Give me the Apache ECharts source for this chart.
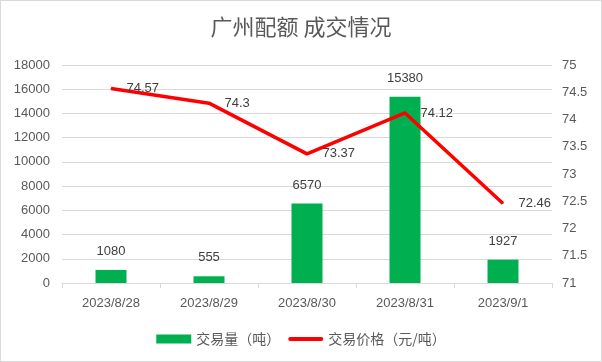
<!DOCTYPE html>
<html><head><meta charset="utf-8">
<script src="https://cdn.jsdelivr.net/npm/echarts@6/dist/echarts.min.js"></script>
<style>
html,body{margin:0;padding:0;background:#fff;}
#c{width:600px;height:360px;border:1px solid #d9d9d9;}
</style></head>
<body><div id="c"></div>
<script>
const categories = ['2023/8/28','2023/8/29','2023/8/30','2023/8/31','2023/9/1'];
const volume = [1080, 555, 6570, 15380, 1927];
const price = [74.57, 74.3, 73.37, 74.12, 72.46];
const titleText = '广州配额 成交情况';
const volumeName = '交易量（吨）';
const priceName = '交易价格（元/吨）';

const chart = echarts.init(document.getElementById('c'), null, {renderer:'canvas'});
const txt = '#595959';
const font = '"Liberation Sans", "Noto Sans CJK SC", sans-serif';
chart.setOption({
  animation:false,
  title:{text:titleText,left:'center',top:10,textStyle:{fontSize:22,fontWeight:'normal',color:txt,fontFamily:'"Noto Sans CJK SC", sans-serif'}},
  legend:{bottom:10,left:'center',itemGap:8,itemWidth:35,itemHeight:9,symbolKeepAspect:true,
    textStyle:{fontSize:14,color:txt,fontFamily:'"Noto Sans CJK SC", sans-serif'},
    data:[{name:volumeName,icon:'rect'},
          {name:priceName,icon:'path://M2,0H33A2,2 0 0 1 33,4H2A2,2 0 0 1 2,0Z',itemStyle:{color:'#FF0000'}}]},
  grid:{left:61,right:49,top:64,bottom:78},
  xAxis:{type:'category',data:categories,
    axisLine:{lineStyle:{color:'#d9d9d9'}},
    axisTick:{show:true,length:5,lineStyle:{color:'#d9d9d9'}},
    axisLabel:{color:txt,fontSize:13,margin:14,fontFamily:font}},
  yAxis:[
    {type:'value',min:0,max:18000,interval:2000,
     axisLine:{show:false},axisTick:{show:false},
     splitLine:{lineStyle:{color:'#d9d9d9'}},
     axisLabel:{color:txt,fontSize:13,margin:12,fontFamily:font,formatter:v=>String(v)}},
    {type:'value',min:71,max:75,interval:0.5,
     axisLine:{show:false},axisTick:{show:false},splitLine:{show:false},
     axisLabel:{color:txt,fontSize:13,margin:10,fontFamily:font,formatter:v=>String(v)}}
  ],
  series:[
    {name:volumeName,type:'bar',data:volume,barWidth:31,itemStyle:{color:'#00B050'},
     label:{show:true,position:'top',distance:12,color:'#404040',fontSize:13,fontFamily:font}},
    {name:priceName,type:'line',yAxisIndex:1,data:price,symbol:'circle',symbolSize:1,showSymbol:true,
     lineStyle:{color:'#FF0000',width:3.5},itemStyle:{color:'#FF0000'},
     label:{show:true,position:'right',distance:15,color:'#404040',fontSize:13,fontFamily:font}}
  ]
});
</script></body></html>
